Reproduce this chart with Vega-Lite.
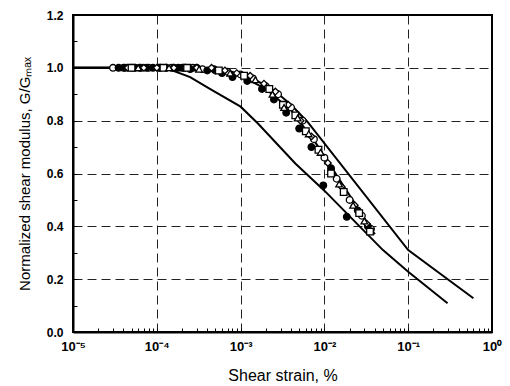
{
  "$schema": "https://vega.github.io/schema/vega-lite/v6.json",
  "width": 419,
  "height": 317,
  "autosize": "none",
  "padding": {"left": 73, "top": 15, "right": 18, "bottom": 54},
  "config": {
    "view": {"stroke": "black", "strokeWidth": 2},
    "font": "Liberation Sans",
    "axis": {
      "domainColor": "black", "domainWidth": 2,
      "tickColor": "black", "tickWidth": 1,
      "gridColor": "#222", "gridWidth": 1, "gridDash": [9, 5],
      "labelColor": "black", "titleColor": "black",
      "labelFont": "Liberation Sans", "titleFont": "Liberation Sans"
    }
  },
  "datasets": {
    "curves": [
      {"curve": "upper", "strain": 0.00001, "G": 1.0},
      {"curve": "upper", "strain": 0.00032, "G": 1.0},
      {"curve": "upper", "strain": 0.00079, "G": 0.985},
      {"curve": "upper", "strain": 0.0016, "G": 0.95},
      {"curve": "upper", "strain": 0.0025, "G": 0.915},
      {"curve": "upper", "strain": 0.004, "G": 0.86},
      {"curve": "upper", "strain": 0.0063, "G": 0.795},
      {"curve": "upper", "strain": 0.1, "G": 0.31},
      {"curve": "upper", "strain": 0.6, "G": 0.128},
      {"curve": "middle", "strain": 0.00001, "G": 1.0},
      {"curve": "middle", "strain": 0.00032, "G": 1.0},
      {"curve": "middle", "strain": 0.001, "G": 0.97},
      {"curve": "middle", "strain": 0.002, "G": 0.92},
      {"curve": "middle", "strain": 0.004, "G": 0.84},
      {"curve": "middle", "strain": 0.0079, "G": 0.715},
      {"curve": "middle", "strain": 0.04, "G": 0.37},
      {"curve": "lower", "strain": 0.00001, "G": 1.0},
      {"curve": "lower", "strain": 0.000126, "G": 1.0},
      {"curve": "lower", "strain": 0.00025, "G": 0.965},
      {"curve": "lower", "strain": 0.00043, "G": 0.92},
      {"curve": "lower", "strain": 0.001, "G": 0.853},
      {"curve": "lower", "strain": 0.0016, "G": 0.79},
      {"curve": "lower", "strain": 0.0045, "G": 0.638},
      {"curve": "lower", "strain": 0.01, "G": 0.535},
      {"curve": "lower", "strain": 0.05, "G": 0.31},
      {"curve": "lower", "strain": 0.1, "G": 0.228},
      {"curve": "lower", "strain": 0.295, "G": 0.109}
    ],
    "points": [
      {"series": "A", "strain": 0.00003, "G": 1.0},
      {"series": "A", "strain": 0.00004, "G": 1.0},
      {"series": "A", "strain": 0.00005, "G": 1.0},
      {"series": "A", "strain": 0.000065, "G": 1.0},
      {"series": "A", "strain": 0.00008, "G": 1.0},
      {"series": "A", "strain": 0.00011, "G": 1.0},
      {"series": "A", "strain": 0.00015, "G": 1.0},
      {"series": "A", "strain": 0.0002, "G": 1.0},
      {"series": "A", "strain": 0.00027, "G": 1.0},
      {"series": "A", "strain": 0.00035, "G": 0.995},
      {"series": "A", "strain": 0.0005, "G": 0.99},
      {"series": "A", "strain": 0.0007, "G": 0.985},
      {"series": "A", "strain": 0.001, "G": 0.975},
      {"series": "A", "strain": 0.0014, "G": 0.96},
      {"series": "A", "strain": 0.002, "G": 0.93},
      {"series": "A", "strain": 0.0028, "G": 0.9},
      {"series": "A", "strain": 0.004, "G": 0.85},
      {"series": "A", "strain": 0.0055, "G": 0.8},
      {"series": "A", "strain": 0.0075, "G": 0.73},
      {"series": "A", "strain": 0.01, "G": 0.66},
      {"series": "A", "strain": 0.014, "G": 0.58},
      {"series": "A", "strain": 0.02, "G": 0.5},
      {"series": "A", "strain": 0.028, "G": 0.44},
      {"series": "A", "strain": 0.036, "G": 0.39},
      {"series": "B", "strain": 0.000035, "G": 1.0},
      {"series": "B", "strain": 0.000042, "G": 1.0},
      {"series": "B", "strain": 0.000055, "G": 1.0},
      {"series": "B", "strain": 0.000062, "G": 1.0},
      {"series": "B", "strain": 0.000075, "G": 1.0},
      {"series": "B", "strain": 0.00009, "G": 1.0},
      {"series": "B", "strain": 0.000105, "G": 1.0},
      {"series": "B", "strain": 0.00013, "G": 1.0},
      {"series": "B", "strain": 0.00016, "G": 1.0},
      {"series": "B", "strain": 0.00018, "G": 1.0},
      {"series": "B", "strain": 0.00021, "G": 1.0},
      {"series": "B", "strain": 0.00025, "G": 0.995},
      {"series": "B", "strain": 0.0003, "G": 1.0},
      {"series": "B", "strain": 0.0004, "G": 0.99},
      {"series": "B", "strain": 0.00048, "G": 0.995},
      {"series": "B", "strain": 0.0006, "G": 0.98},
      {"series": "B", "strain": 0.0008, "G": 0.965},
      {"series": "B", "strain": 0.0012, "G": 0.95},
      {"series": "B", "strain": 0.0018, "G": 0.92},
      {"series": "B", "strain": 0.0025, "G": 0.88},
      {"series": "B", "strain": 0.0035, "G": 0.83},
      {"series": "B", "strain": 0.005, "G": 0.77},
      {"series": "B", "strain": 0.007, "G": 0.7},
      {"series": "B", "strain": 0.0097, "G": 0.555},
      {"series": "B", "strain": 0.012, "G": 0.62},
      {"series": "B", "strain": 0.0185, "G": 0.436},
      {"series": "B", "strain": 0.025, "G": 0.46},
      {"series": "B", "strain": 0.033, "G": 0.4},
      {"series": "C", "strain": 0.000045, "G": 1.0},
      {"series": "C", "strain": 0.00007, "G": 1.0},
      {"series": "C", "strain": 0.0001, "G": 1.0},
      {"series": "C", "strain": 0.00016, "G": 1.0},
      {"series": "C", "strain": 0.00022, "G": 1.0},
      {"series": "C", "strain": 0.0003, "G": 1.0},
      {"series": "C", "strain": 0.00045, "G": 1.0},
      {"series": "C", "strain": 0.00065, "G": 0.99},
      {"series": "C", "strain": 0.0009, "G": 0.98},
      {"series": "C", "strain": 0.0013, "G": 0.97},
      {"series": "C", "strain": 0.0019, "G": 0.94},
      {"series": "C", "strain": 0.0026, "G": 0.91},
      {"series": "C", "strain": 0.0037, "G": 0.86},
      {"series": "C", "strain": 0.0052, "G": 0.8},
      {"series": "C", "strain": 0.007, "G": 0.74},
      {"series": "C", "strain": 0.011, "G": 0.64},
      {"series": "C", "strain": 0.016, "G": 0.55},
      {"series": "C", "strain": 0.023, "G": 0.48},
      {"series": "C", "strain": 0.032, "G": 0.41},
      {"series": "D", "strain": 0.00005, "G": 1.0},
      {"series": "D", "strain": 0.00012, "G": 1.0},
      {"series": "D", "strain": 0.00023, "G": 1.0},
      {"series": "D", "strain": 0.00055, "G": 0.99},
      {"series": "D", "strain": 0.0011, "G": 0.97},
      {"series": "D", "strain": 0.0022, "G": 0.92},
      {"series": "D", "strain": 0.0032, "G": 0.86},
      {"series": "D", "strain": 0.0045, "G": 0.82},
      {"series": "D", "strain": 0.006, "G": 0.76},
      {"series": "D", "strain": 0.0085, "G": 0.69},
      {"series": "D", "strain": 0.012, "G": 0.6},
      {"series": "D", "strain": 0.017, "G": 0.53},
      {"series": "D", "strain": 0.026, "G": 0.45},
      {"series": "D", "strain": 0.035, "G": 0.38},
      {"series": "E", "strain": 0.00006, "G": 1.0},
      {"series": "E", "strain": 0.00014, "G": 1.0},
      {"series": "E", "strain": 0.00032, "G": 0.995},
      {"series": "E", "strain": 0.00075, "G": 0.98},
      {"series": "E", "strain": 0.0015, "G": 0.955},
      {"series": "E", "strain": 0.0024, "G": 0.9},
      {"series": "E", "strain": 0.0033, "G": 0.85},
      {"series": "E", "strain": 0.0048, "G": 0.81},
      {"series": "E", "strain": 0.0065, "G": 0.75},
      {"series": "E", "strain": 0.009, "G": 0.68},
      {"series": "E", "strain": 0.015, "G": 0.56},
      {"series": "E", "strain": 0.022, "G": 0.48},
      {"series": "E", "strain": 0.03, "G": 0.42}
    ]
  },
  "encoding": {
    "x": {
      "field": "strain", "type": "quantitative",
      "scale": {"type": "log", "domain": [0.00001, 1], "nice": false},
      "axis": {
        "title": "Shear strain, %",
        "titleFontSize": 16, "titleFontWeight": "normal", "titlePadding": 14,
        "values": [0.00001, 0.00002, 0.00003, 0.00004, 0.00005, 0.00006, 0.00007, 0.00008, 0.00009,
                   0.0001, 0.0002, 0.0003, 0.0004, 0.0005, 0.0006, 0.0007, 0.0008, 0.0009,
                   0.001, 0.002, 0.003, 0.004, 0.005, 0.006, 0.007, 0.008, 0.009,
                   0.01, 0.02, 0.03, 0.04, 0.05, 0.06, 0.07, 0.08, 0.09,
                   0.1, 0.2, 0.3, 0.4, 0.5, 0.6, 0.7, 0.8, 0.9, 1],
        "labelExpr": "abs(log(datum.value)/LN10 - round(log(datum.value)/LN10)) < 0.001 ? ('10' + (round(log(datum.value)/LN10) == -5 ? '⁻⁵' : round(log(datum.value)/LN10) == -4 ? '⁻⁴' : round(log(datum.value)/LN10) == -3 ? '⁻³' : round(log(datum.value)/LN10) == -2 ? '⁻²' : round(log(datum.value)/LN10) == -1 ? '⁻¹' : '⁰')) : ''",
        "labelFontSize": 13, "labelFontWeight": "bold", "labelPadding": 12,
        "labelFlush": false, "labelOverlap": false,
        "tickSize": -4,
        "grid": true,
        "gridOpacity": {"condition": {"test": "abs(log(datum.value)/LN10 - round(log(datum.value)/LN10)) < 0.001 && datum.value > 0.00002 && datum.value < 0.5", "value": 1}, "value": 0}
      }
    },
    "y": {
      "field": "G", "type": "quantitative",
      "scale": {"domain": [0, 1.2], "nice": false},
      "axis": {
        "title": "Normalized shear modulus, G/Gₘₐₓ",
        "titleFontSize": 15, "titleFontWeight": "normal", "titlePadding": 14,
        "values": [0, 0.1, 0.2, 0.3, 0.4, 0.5, 0.6, 0.7, 0.8, 0.9, 1.0, 1.1, 1.2],
        "labelExpr": "round(datum.value*10) % 2 == 0 ? format(datum.value, '.1f') : ''",
        "labelFontSize": 12, "labelFontWeight": "bold", "labelPadding": 14,
        "labelFlush": false, "labelOverlap": false,
        "tickSize": -4,
        "grid": true,
        "gridOpacity": {"condition": {"test": "round(datum.value*10) % 2 == 0 && datum.value > 0.05 && datum.value < 1.15", "value": 1}, "value": 0}
      }
    }
  },
  "layer": [
    {
      "data": {"name": "curves"},
      "mark": {"type": "line", "color": "black", "strokeWidth": 2},
      "encoding": {"detail": {"field": "curve"}}
    },
    {
      "data": {"name": "points"},
      "mark": {"type": "point", "filled": true, "stroke": "black", "strokeWidth": 1.3, "size": 44, "opacity": 1},
      "encoding": {
        "shape": {"field": "series", "type": "nominal", "legend": null,
                  "scale": {"domain": ["A", "B", "C", "D", "E"], "range": ["circle", "circle", "diamond", "square", "triangle-up"]}},
        "fill": {"field": "series", "type": "nominal", "legend": null,
                 "scale": {"domain": ["A", "B", "C", "D", "E"], "range": ["white", "black", "white", "white", "white"]}}
      }
    }
  ]
}
